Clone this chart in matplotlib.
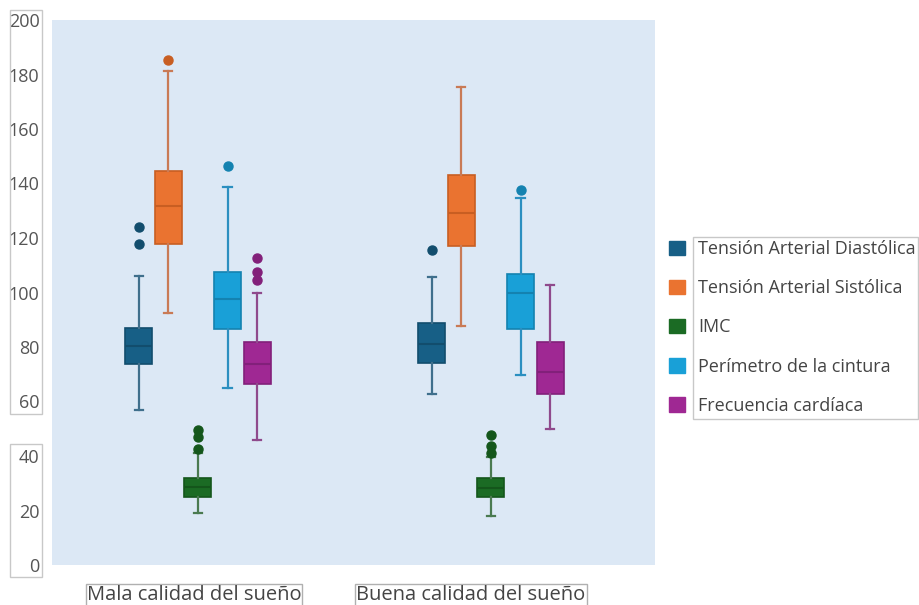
import matplotlib
matplotlib.use("Agg")
import matplotlib.pyplot as plt
from matplotlib.patches import Patch, Rectangle

plt.rcParams['font.family'] = ['Open Sans', 'DejaVu Sans']

groups = ["Mala calidad del sueño", "Buena calidad del sueño"]
series = ["Tensión Arterial Diastólica", "Tensión Arterial Sistólica", "IMC",
          "Perímetro de la cintura", "Frecuencia cardíaca"]

# five-number summaries per group: [whislo, q1, median, q3, whishi]
diastolica = [[56.9, 73.8, 80.4, 87.0, 106.1], [62.8, 74.1, 81.1, 88.8, 105.7]]
sistolica = [[92.5, 117.8, 131.7, 144.6, 181.3], [87.7, 117.1, 129.2, 143.1, 175.4]]
imc = [[19.1, 25.0, 28.6, 31.9, 41.1], [18.0, 25.0, 28.3, 31.9, 39.6]]
perimetro = [[65.0, 86.6, 97.6, 107.5, 138.7], [69.7, 86.6, 99.8, 106.8, 134.7]]
frecuencia = [[45.9, 66.4, 73.8, 81.8, 99.8], [49.9, 62.8, 70.8, 81.8, 102.8]]

diastolica_out = [[117.8, 124.0], [115.6]]
sistolica_out = [[185.3], []]
imc_out = [[42.6, 47.0, 49.5], [41.1, 43.7, 47.7]]
perimetro_out = [[146.4], [137.6]]
frecuencia_out = [[104.6, 107.5, 112.7], []]

y_ticks = [0, 20, 40, 60, 80, 100, 120, 140, 160, 180, 200]

colors = ["#175f86", "#ea7330", "#1b6b24", "#19a0d7", "#9f2893"]
edge_colors = ["#124d6d", "#c85e22", "#14561b", "#1482b0", "#82207a"]
whisk_colors = ["#3f6f8c", "#c97a55", "#4a7a50", "#2b8fc0", "#8f4a8c"]

summaries = [diastolica, sistolica, imc, perimetro, frecuencia]
outliers = [diastolica_out, sistolica_out, imc_out, perimetro_out, frecuencia_out]

fig = plt.figure(figsize=(9.2, 6.05), dpi=100)
W, H = 920, 605
ax = fig.add_axes([52 / W, 1 - 565 / H, 603 / W, 545 / H])
ax.set_facecolor("#dce8f5")
for s in ax.spines.values():
    s.set_visible(False)

step = 0.101
width = 0.092
for i, (summ, outs) in enumerate(zip(summaries, outliers)):
    stats = []
    for g in range(len(groups)):
        lo, q1, med, q3, hi = summ[g]
        stats.append(dict(whislo=lo, q1=q1, med=med, q3=q3, whishi=hi, fliers=outs[g]))
    pos = [g + (i - 2) * step for g in range(len(groups))]
    ax.bxp(stats, positions=pos, widths=width, patch_artist=True, showfliers=True,
           capwidths=0.028,
           boxprops=dict(facecolor=colors[i], edgecolor=edge_colors[i], linewidth=1.2),
           medianprops=dict(color=edge_colors[i], linewidth=1.5),
           whiskerprops=dict(color=whisk_colors[i], linewidth=1.6),
           capprops=dict(color=whisk_colors[i], linewidth=1.6),
           flierprops=dict(marker='o', markersize=6.5, markerfacecolor=edge_colors[i],
                           markeredgecolor=edge_colors[i]))

ax.set_xlim(-0.498, 1.56)
ax.set_ylim(0, 200)
ax.set_yticks(y_ticks)
ax.set_yticklabels([str(v) for v in y_ticks])
ax.tick_params(axis='y', length=0, pad=9, labelsize=13, labelcolor="#555555")
ax.set_xticks([])

# boxes around y labels
fig.add_artist(Rectangle((10 / W, 1 - 414 / H), 32 / W, 404 / H, transform=fig.transFigure,
                         fill=False, edgecolor="#c8c8c8", linewidth=1))
fig.add_artist(Rectangle((10 / W, 1 - 577 / H), 32 / W, 133 / H, transform=fig.transFigure,
                         fill=False, edgecolor="#c8c8c8", linewidth=1))

# category labels
for x_px, lab in [(194, groups[0]), (471, groups[1])]:
    fig.text(x_px / W, 1 - 595 / H, lab, ha='center', va='center', fontsize=14.5,
             color="#444444",
             bbox=dict(boxstyle='square,pad=0.05', facecolor='white', edgecolor='#b0b0b0'))

# legend
handles = [Patch(facecolor=c, edgecolor=c) for c in colors]
leg = fig.legend(handles, series, loc='upper left', bbox_to_anchor=(662 / W, 1 - 233 / H),
                 frameon=False, fontsize=13, handlelength=0.85, handleheight=0.85,
                 handletextpad=0.75, labelspacing=1.17, borderaxespad=0)
for t in leg.get_texts():
    t.set_color("#444444")
fig.add_artist(Rectangle((693 / W, 1 - 419 / H), 225 / W, 182 / H, transform=fig.transFigure,
                         fill=False, edgecolor="#c8c8c8", linewidth=1))

fig.savefig("out.png", dpi=100, facecolor="white")
